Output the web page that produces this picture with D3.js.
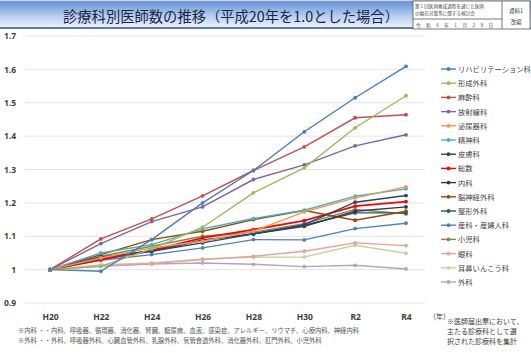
<!DOCTYPE html>
<html>
<head>
<meta charset="utf-8">
<script src="https://cdn.jsdelivr.net/npm/d3@7"></script>
<style>
  body { margin: 0; background: #fff; }
  svg { display: block; font-family: "Noto Sans CJK JP", "Noto Sans", sans-serif; }
</style>
</head>
<body>
<div id="grafico"></div>
<script>
// Dados do gráfico
const anos = ['H20', 'H22', 'H24', 'H26', 'H28', 'H30', 'R2', 'R4'];
const ticksY = [0.9, 1.0, 1.1, 1.2, 1.3, 1.4, 1.5, 1.6, 1.7];

const nomes = ['リハビリテーション科', '形成外科', '麻酔科', '放射線科', '泌尿器科', '精神科', '皮膚科', '総数',
  '内科', '脳神経外科', '整形外科', '産科・産婦人科', '小児科', '眼科', '耳鼻いんこう科', '外科'];
const cores = ['#4a7ebb', '#9bbb59', '#c0504d', '#8064a2', '#f79646', '#4bacc6', '#1f497d', '#ff0000',
  '#403152', '#984807', '#215968', '#4f81bd', '#77933c', '#e6a0a0', '#c3d69b', '#b3a2c7'];

const valores = [
  [1, 0.995, 1.09, 1.20, 1.297, 1.413, 1.515, 1.609],
  [1, 1.010, 1.062, 1.127, 1.23, 1.305, 1.425, 1.521],
  [1, 1.092, 1.152, 1.221, 1.297, 1.368, 1.455, 1.464],
  [1, 1.078, 1.144, 1.188, 1.27, 1.314, 1.371, 1.404],
  [1, 1.035, 1.065, 1.085, 1.115, 1.173, 1.215, 1.248],
  [1, 1.050, 1.075, 1.122, 1.153, 1.178, 1.220, 1.242],
  [1, 1.038, 1.055, 1.080, 1.107, 1.135, 1.202, 1.222],
  [1, 1.030, 1.058, 1.095, 1.120, 1.147, 1.190, 1.204],
  [1, 1.032, 1.055, 1.088, 1.107, 1.130, 1.175, 1.188],
  [1, 1.045, 1.090, 1.115, 1.150, 1.177, 1.148, 1.175],
  [1, 1.035, 1.057, 1.088, 1.107, 1.133, 1.170, 1.170],
  [1, 1.028, 1.045, 1.065, 1.090, 1.089, 1.123, 1.139],
  [1, 1.040, 1.070, 1.100, 1.112, 1.138, 1.180, 1.167],
  [1, 1.012, 1.018, 1.030, 1.040, 1.055, 1.080, 1.072],
  [1, 1.015, 1.020, 1.032, 1.037, 1.038, 1.073, 1.049],
  [1, 1.010, 1.017, 1.020, 1.016, 1.009, 1.013, 1.002]
];

const notaRodape = [
  '※内科 ・・内科、呼吸器、循環器、消化器、腎臓、糖尿病、血液、感染症、アレルギー、リウマチ、心療内科、神経内科',
  '※外科 ・・外科、呼吸器外科、心臓血管外科、乳腺外科、気管食道外科、消化器外科、肛門外科、小児外科'
];
const notaDireita = ['※医師届出票において、', '主たる診療科として選', '択された診療科を集計'];

function criarGrafico() {
  const largura = 531;
  const altura = 353;

  const svg = d3.select('#grafico').append('svg')
    .attr('width', largura)
    .attr('height', altura);

  // Barra do título com degradê
  const defs = svg.append('defs');
  const grad = defs.append('linearGradient').attr('id', 'fundoTitulo')
    .attr('x1', 0).attr('y1', 0).attr('x2', 0).attr('y2', 1);
  grad.append('stop').attr('offset', '0%').attr('stop-color', '#5f8fd8');
  grad.append('stop').attr('offset', '55%').attr('stop-color', '#b5cdef');
  grad.append('stop').attr('offset', '100%').attr('stop-color', '#eef4fc');

  svg.append('rect').attr('x', 0).attr('y', 1).attr('width', largura).attr('height', 27)
    .attr('fill', 'url(#fundoTitulo)');
  svg.append('line').attr('x1', 0).attr('x2', largura).attr('y1', 1).attr('y2', 1)
    .attr('stroke', '#9aa6b8').attr('stroke-width', 1);
  svg.append('line').attr('x1', 0).attr('x2', largura).attr('y1', 28).attr('y2', 28)
    .attr('stroke', '#2f4f8f').attr('stroke-width', 1.5);

  svg.append('text').attr('x', 231).attr('y', 21.5)
    .attr('text-anchor', 'middle')
    .attr('font-size', 14.3)
    .attr('fill', '#1b2440')
    .text('診療科別医師数の推移（平成20年を1.0とした場合）');

  // Caixa do canto superior direito
  const caixa = svg.append('g');
  caixa.append('rect').attr('x', 413).attr('y', 1).attr('width', 117).attr('height', 28)
    .attr('fill', '#fff').attr('stroke', '#555').attr('stroke-width', 0.8);
  caixa.append('line').attr('x1', 502).attr('x2', 502).attr('y1', 1).attr('y2', 29)
    .attr('stroke', '#555').attr('stroke-width', 0.8);
  caixa.append('line').attr('x1', 413).attr('x2', 502).attr('y1', 19).attr('y2', 19)
    .attr('stroke', '#555').attr('stroke-width', 0.8);
  caixa.append('text').attr('x', 415).attr('y', 8).attr('font-size', 4.6).attr('fill', '#444')
    .text('第１回医師養成過程を通じた医師');
  caixa.append('text').attr('x', 415).attr('y', 15).attr('font-size', 4.6).attr('fill', '#444')
    .text('の偏在対策等に関する検討会');
  caixa.append('text').attr('x', 416).attr('y', 26.5).attr('font-size', 4.6).attr('fill', '#444')
    .attr('letter-spacing', 5.5)
    .text('令和6年1月29日');
  caixa.append('text').attr('x', 516).attr('y', 13).attr('text-anchor', 'middle')
    .attr('font-size', 5.5).attr('fill', '#444').text('資料1');
  caixa.append('text').attr('x', 516).attr('y', 24).attr('text-anchor', 'middle')
    .attr('font-size', 5.5).attr('fill', '#444').text('改編');

  // Escalas
  const x = d3.scalePoint().domain(anos).range([50, 406]);
  const y = d3.scaleLinear().domain([0.9, 1.7]).range([303, 36]);

  // Linhas de grade
  svg.append('g').selectAll('line').data(ticksY).enter().append('line')
    .attr('x1', 25).attr('x2', 425)
    .attr('y1', (d) => y(d)).attr('y2', (d) => y(d))
    .attr('stroke', '#e4e4e4').attr('stroke-width', 1);

  // Eixo Y
  const eixoY = svg.append('g').attr('transform', 'translate(19,0)')
    .call(d3.axisLeft(y).tickValues(ticksY).tickSize(0)
      .tickFormat((d) => (d === 1 ? '1' : d3.format('.1f')(d))));
  eixoY.select('.domain').remove();
  eixoY.selectAll('text').attr('font-size', 8.5).attr('fill', '#404040').attr('font-weight', 'bold')
    .attr('font-family', '"Noto Sans", sans-serif');

  // Eixo X
  const eixoX = svg.append('g').attr('transform', 'translate(0,311)')
    .call(d3.axisBottom(x).tickSize(0));
  eixoX.select('.domain').remove();
  eixoX.selectAll('text').attr('font-size', 8.5).attr('fill', '#404040').attr('font-weight', 'bold')
    .attr('font-family', '"Noto Sans", sans-serif');

  svg.append('text').attr('x', 429).attr('y', 319).attr('font-size', 7).attr('fill', '#404040')
    .text('（年）');

  // Séries (desenha de trás para frente para o total ficar visível)
  const linha = d3.line().x((d, i) => x(anos[i])).y((d) => y(d));
  const ordem = d3.range(nomes.length).reverse();
  ordem.forEach((k) => {
    const g = svg.append('g');
    g.append('path').datum(valores[k])
      .attr('d', linha)
      .attr('fill', 'none')
      .attr('stroke', cores[k])
      .attr('stroke-width', k === 7 ? 1.8 : 1.4);
    g.selectAll('circle').data(valores[k]).enter().append('circle')
      .attr('cx', (d, i) => x(anos[i]))
      .attr('cy', (d) => y(d))
      .attr('r', 1.9)
      .attr('fill', cores[k]);
  });

  // Legenda
  const legenda = svg.append('g').selectAll('g').data(nomes).enter().append('g')
    .attr('transform', (d, i) => `translate(441,${69 + i * 14.2})`);
  legenda.append('line').attr('x1', 0).attr('x2', 15).attr('y1', 0).attr('y2', 0)
    .attr('stroke', (d, i) => cores[i]).attr('stroke-width', 1.4);
  legenda.append('circle').attr('cx', 7.5).attr('cy', 0).attr('r', 1.9)
    .attr('fill', (d, i) => cores[i]);
  legenda.append('text').attr('x', 17).attr('y', 3).attr('font-size', 7.3).attr('fill', '#404040')
    .text((d) => d);

  // Notas
  svg.append('g').selectAll('text').data(notaRodape).enter().append('text')
    .attr('x', 18).attr('y', (d, i) => 333 + i * 9.5)
    .attr('font-size', 6.3).attr('fill', '#555')
    .text((d) => d);
  svg.append('g').selectAll('text').data(notaDireita).enter().append('text')
    .attr('x', 447).attr('y', (d, i) => 324 + i * 10)
    .attr('font-size', 7).attr('fill', '#404040')
    .text((d) => d);
}

criarGrafico();
</script>
</body>
</html>
